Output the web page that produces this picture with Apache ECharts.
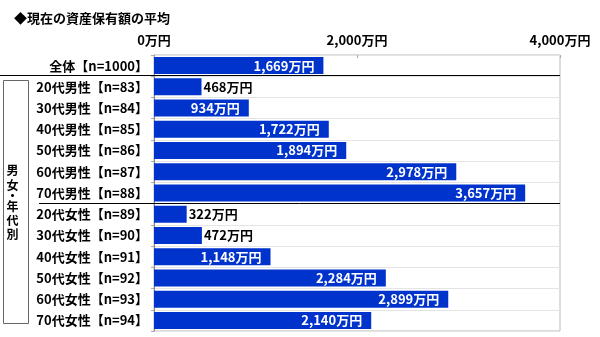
<!DOCTYPE html>
<html>
<head>
<meta charset="utf-8">
<script src="https://cdn.jsdelivr.net/npm/echarts@6/dist/echarts.min.js"></script>
<style>
html,body{margin:0;padding:0;background:#fff;}
#c{width:600px;height:337px;}
</style>
</head>
<body>
<div id="c"></div>
<script>
var titleText = '◆現在の資産保有額の平均';
var categories = [
  '全体【n=1000】',
  '20代男性【n=83】','30代男性【n=84】','40代男性【n=85】','50代男性【n=86】','60代男性【n=87】','70代男性【n=88】',
  '20代女性【n=89】','30代女性【n=90】','40代女性【n=91】','50代女性【n=92】','60代女性【n=93】','70代女性【n=94】'
];
var values = [1669, 468, 934, 1722, 1894, 2978, 3657, 322, 472, 1148, 2284, 2899, 2140];
var groupLabel = ['男','女','・','年','代','別'];
var groupLabelY = [170, 185, 196, 206, 220, 234];
var xTicks = [0, 2000, 4000];

var FONT = '"Noto Sans CJK JP", "Noto Sans", sans-serif';
function fmt(v){ return v.toLocaleString('en-US') + '万円'; }

var barData = values.map(function(v){
  var inside = v >= 600;
  return {
    value: v,
    label: {
      position: inside ? 'insideRight' : 'right',
      distance: inside ? 9 : 2,
      color: inside ? '#fff' : '#000'
    }
  };
});

var graphics = [
  {type:'line', shape:{x1:0,y1:75.5,x2:560,y2:75.5}, style:{stroke:'#000',lineWidth:1}, z:10},
  {type:'line', shape:{x1:39,y1:203.5,x2:560,y2:203.5}, style:{stroke:'#000',lineWidth:1}, z:10},
  {type:'rect', shape:{x:3.5,y:80.5,width:25,height:243}, style:{fill:'none',stroke:'#666',lineWidth:1}, z:10}
];
groupLabel.forEach(function(ch, i){
  graphics.push({type:'text', x:12.5, y:groupLabelY[i], style:{text:ch, font:'bold 12px ' + FONT, fill:'#000', align:'center', verticalAlign:'middle'}, z:10});
});

var chart = echarts.init(document.getElementById('c'));
chart.setOption({
  animation: false,
  title: {
    text: titleText, left: 9, top: 7,
    textStyle: {fontFamily: FONT, fontWeight: 'bold', fontSize: 13, color: '#000'}
  },
  grid: {left: 154, right: 40, top: 55, height: 276, show: true, borderColor: '#bbb', borderWidth: 1},
  xAxis: {
    type: 'value', position: 'top', min: 0, max: 4000, interval: 2000,
    axisLine: {show: false},
    axisTick: {show: true, inside: true, length: 3, lineStyle: {color: '#aaa'}},
    splitLine: {show: false},
    axisLabel: {margin: 8, formatter: function(v){ return fmt(v); }, fontFamily: FONT, fontWeight: 'bold', fontSize: 13, color: '#000'}
  },
  yAxis: {
    type: 'category', data: categories, inverse: true,
    axisLine: {show: true, lineStyle: {color: '#888'}},
    axisTick: {show: true, length: 3, lineStyle: {color: '#aaa'}},
    splitLine: {show: true, lineStyle: {color: '#e4e4e4'}},
    axisLabel: {margin: 6, fontFamily: FONT, fontWeight: 'bold', fontSize: 13, color: '#000'}
  },
  series: [{
    type: 'bar', data: barData, barCategoryGap: '20%',
    itemStyle: {color: '#0033cc'},
    label: {show: true, formatter: function(p){ return fmt(p.value); }, fontFamily: FONT, fontWeight: 'bold', fontSize: 13}
  }],
  graphic: graphics
});
</script>
</body>
</html>
